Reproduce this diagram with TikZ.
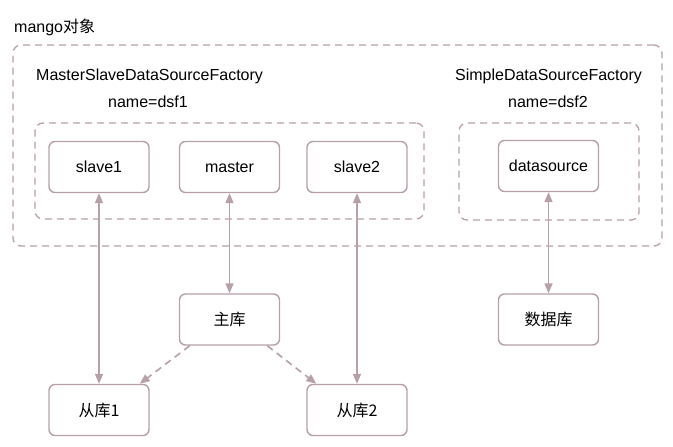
\documentclass[tikz,border=0pt]{standalone}
\usepackage{fontspec}
\setmainfont{Liberation Sans}
\newfontfamily\cjk{Noto Sans CJK SC}
\usetikzlibrary{arrows.meta,calc}
\definecolor{edgec}{RGB}{184,160,167}
\tikzset{
  box/.style={draw=edgec, line width=1.4pt, rounded corners=6pt, fill=white,
    minimum width=100pt, minimum height=51pt, inner sep=0pt, font=\fontsize{16}{18}\selectfont},
  cbox/.style={box, font=\cjk\fontsize{16}{18}\selectfont},
  dbox/.style={draw=edgec, line width=1.3pt, rounded corners=8pt, dash pattern=on 7pt off 5pt,
    inner sep=0pt},
  lbl/.style={inner sep=0pt, font=\fontsize{16}{18}\selectfont},
  arr/.style={draw=edgec, line width=1.6pt, {Triangle[length=10pt,width=8pt]}-{Triangle[length=10pt,width=8pt]}},
  darr/.style={draw=edgec, line width=1.6pt, dash pattern=on 7pt off 5pt, -{Triangle[length=10pt,width=8pt]}},
}
\begin{document}
\begin{tikzpicture}[x=1pt,y=-1pt]
\useasboundingbox[fill=white] (0,0) rectangle (673,447);
% dashed frames
\node[dbox, minimum width=649pt, minimum height=201pt] (outer) at (337.5,145.5) {};
\node[dbox, minimum width=389pt, minimum height=96pt] (inner1) at (229.5,171) {};
\node[dbox, minimum width=180pt, minimum height=97pt] (inner2) at (549,171.5) {};
% labels
\node[lbl, anchor=west] (mango) at (14,27) {mango{\cjk 对象}};
\node[lbl, anchor=west] (msf) at (36,76) {MasterSlaveDataSourceFactory};
\node[lbl, anchor=west] (n1) at (108,102) {name=dsf1};
\node[lbl] (ssf) at (548.5,76) {SimpleDataSourceFactory};
\node[lbl] (n2) at (548,102) {name=dsf2};
% nodes
\node[box] (slave1) at (99,167) {slave1};
\node[box] (master) at (229.5,167) {master};
\node[box] (slave2) at (357,167) {slave2};
\node[box] (ds) at (548.5,166) {datasource};
\node[cbox] (zhu) at (229.5,319.5) {主库};
\node[cbox] (db) at (548.5,319.5) {数据库};
\node[cbox] (cong1) at (99,410) {从库1};
\node[cbox] (cong2) at (357,410) {从库2};
% connectors
\draw[arr] (slave1.south) -- (cong1.north);
\draw[arr] (master.south) -- (zhu.north);
\draw[arr] (slave2.south) -- (cong2.north);
\draw[arr] (ds.south) -- (db.north);
\draw[darr] ([xshift=11pt]zhu.south west) -- ([xshift=-10pt]cong1.north east);
\draw[darr] ([xshift=-13pt]zhu.south east) -- ([xshift=10pt]cong2.north west);
\end{tikzpicture}
\end{document}
